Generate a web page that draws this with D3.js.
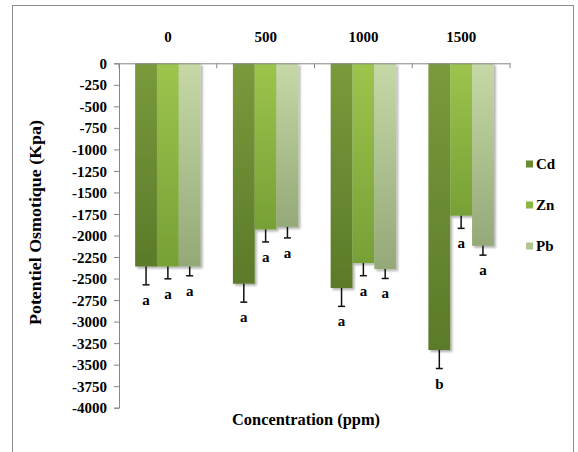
<!DOCTYPE html>
<html>
<head>
<meta charset="utf-8">
<script src="https://cdn.jsdelivr.net/npm/d3@7"></script>
<style>
  body { margin: 0; background: #fff; }
  svg text { font-family: "Liberation Serif", Tinos, "Times New Roman", Times, "DejaVu Serif", serif !important; font-weight: bold; fill: #000; }
</style>
</head>
<body>
<svg id="chart" width="578" height="452"></svg>
<script>
// Osmotic potential (kPa) by metal concentration (ppm)
const concentrations = ["0", "500", "1000", "1500"];
const seriesNames = ["Cd", "Zn", "Pb"];
const cdValues = [-2360, -2560, -2610, -3330];
const znValues = [-2360, -1930, -2320, -1770];
const pbValues = [-2360, -1900, -2390, -2120];
const cdErrors = [213, 214, 213, 215];
const znErrors = [143, 145, 147, 147];
const pbErrors = [108, 128, 109, 108];
const cdLetters = ["a", "a", "a", "b"];
const znLetters = ["a", "a", "a", "a"];
const pbLetters = ["a", "a", "a", "a"];
const yTickValues = d3.range(0, -4001, -250);

const seriesColors = {
  Cd: { top: "#7a9a3c", bottom: "#5b7a29", swatch: "#6b8b33" },
  Zn: { top: "#9dc44c", bottom: "#77a036", swatch: "#8ab642" },
  Pb: { top: "#c5d8a6", bottom: "#95a978", swatch: "#b2c694" }
};

const series = [
  { name: "Cd", values: cdValues, errors: cdErrors, letters: cdLetters },
  { name: "Zn", values: znValues, errors: znErrors, letters: znLetters },
  { name: "Pb", values: pbValues, errors: pbErrors, letters: pbLetters }
];

const rows = [];
concentrations.forEach((c, i) => {
  series.forEach(s => {
    rows.push({ cat: c, name: s.name, value: s.values[i], err: s.errors[i], letter: s.letters[i] });
  });
});

const FONT = '"Liberation Serif", Tinos, "Times New Roman", Times, "DejaVu Serif", serif';
const svg = d3.select("#chart").attr("font-family", FONT);
const plot = { left: 119, right: 510, top: 63.3, bottom: 407.7 };

const defs = svg.append("defs");
seriesNames.forEach(n => {
  const g = defs.append("linearGradient")
    .attr("id", "grad-" + n).attr("x1", 0).attr("y1", 0).attr("x2", 0).attr("y2", 1);
  g.append("stop").attr("offset", "0%").attr("stop-color", seriesColors[n].top);
  g.append("stop").attr("offset", "100%").attr("stop-color", seriesColors[n].bottom);
});
const shadow = defs.append("filter").attr("id", "barShadow")
  .attr("x", "-20%").attr("y", "-5%").attr("width", "150%").attr("height", "115%");
shadow.append("feDropShadow").attr("dx", 2).attr("dy", 2).attr("stdDeviation", 1.3)
  .attr("flood-color", "#000").attr("flood-opacity", 0.3);

// chart frame
svg.append("rect")
  .attr("x", 12.5).attr("y", 5.5).attr("width", 561).attr("height", 470)
  .attr("fill", "#fff").attr("stroke", "#8c8c8c").attr("stroke-width", 1);

const y = d3.scaleLinear().domain([-4000, 0]).range([plot.bottom, plot.top]);
const x0 = d3.scaleBand().domain(concentrations).range([plot.left, plot.right]).padding(0);
const x1 = d3.scaleBand().domain(seriesNames).range([0, x0.bandwidth()])
  .paddingInner(0).paddingOuter(0.74);

// bars
const barG = svg.append("g");
barG.selectAll("rect")
  .data(rows)
  .join("rect")
  .attr("x", d => x0(d.cat) + x1(d.name))
  .attr("y", y(0))
  .attr("width", x1.bandwidth())
  .attr("height", d => y(d.value) - y(0))
  .attr("fill", d => "url(#grad-" + d.name + ")")
  .attr("filter", "url(#barShadow)");

// y axis (plain hyphen for negatives)
const yAxis = d3.axisLeft(y).tickValues(yTickValues).tickSize(5).tickPadding(7)
  .tickFormat(d => String(d));
const yg = svg.append("g").attr("transform", `translate(${plot.left},0)`).call(yAxis)
  .attr("font-family", FONT).attr("font-size", 15);
yg.select(".domain").attr("stroke", "#878787");
yg.selectAll(".tick line").attr("stroke", "#878787");
yg.selectAll(".tick text").attr("fill", "#000").attr("dy", "0.34em");

// x axis along the zero line, labels above
const xAxis = d3.axisTop(x0).tickSize(0).tickPadding(0);
const xg = svg.append("g").attr("transform", `translate(0,${y(0)})`).call(xAxis)
  .attr("font-family", FONT).attr("font-size", 15);
xg.select(".domain").attr("stroke", "#878787");
xg.selectAll(".tick text").attr("fill", "#000").attr("y", -21);
// category boundary tick marks
const bounds = concentrations.map(c => x0(c)).concat([plot.right]);
svg.append("g").selectAll("line")
  .data(bounds).join("line")
  .attr("x1", d => d).attr("x2", d => d)
  .attr("y1", y(0)).attr("y2", y(0) + 5)
  .attr("stroke", "#878787");

// error bars (minus direction)
const errG = svg.append("g").attr("stroke", "#111").attr("stroke-width", 1.5);
const cx = d => x0(d.cat) + x1(d.name) + x1.bandwidth() / 2;
errG.selectAll("line.stem").data(rows).join("line").attr("class", "stem")
  .attr("x1", cx).attr("x2", cx)
  .attr("y1", d => y(d.value)).attr("y2", d => y(d.value - d.err));
errG.selectAll("line.cap").data(rows).join("line").attr("class", "cap")
  .attr("x1", d => cx(d) - 3.5).attr("x2", d => cx(d) + 3.5)
  .attr("y1", d => y(d.value - d.err)).attr("y2", d => y(d.value - d.err));

// significance letters
svg.append("g").selectAll("text").data(rows).join("text")
  .attr("x", cx)
  .attr("y", d => y(d.value - d.err) + 20)
  .attr("text-anchor", "middle")
  .attr("font-size", 15)
  .text(d => d.letter);

// axis titles
svg.append("text")
  .attr("transform", "translate(41,222.5) rotate(-90)")
  .attr("text-anchor", "middle")
  .attr("textLength", 205).attr("lengthAdjust", "spacingAndGlyphs")
  .attr("font-size", 16)
  .text("Potentiel Osmotique (Kpa)");

svg.append("text")
  .attr("x", 306).attr("y", 425)
  .attr("text-anchor", "middle")
  .attr("textLength", 148).attr("lengthAdjust", "spacingAndGlyphs")
  .attr("font-size", 17)
  .text("Concentration (ppm)");

// legend
const legend = svg.append("g").selectAll("g").data(seriesNames).join("g")
  .attr("transform", (d, i) => `translate(526,${164 + i * 41})`);
legend.append("rect").attr("x", 0).attr("y", -3.5).attr("width", 7).attr("height", 7)
  .attr("fill", d => seriesColors[d].swatch);
legend.append("text").attr("x", 10).attr("y", 5).attr("font-size", 15).text(d => d);
</script>
</body>
</html>
